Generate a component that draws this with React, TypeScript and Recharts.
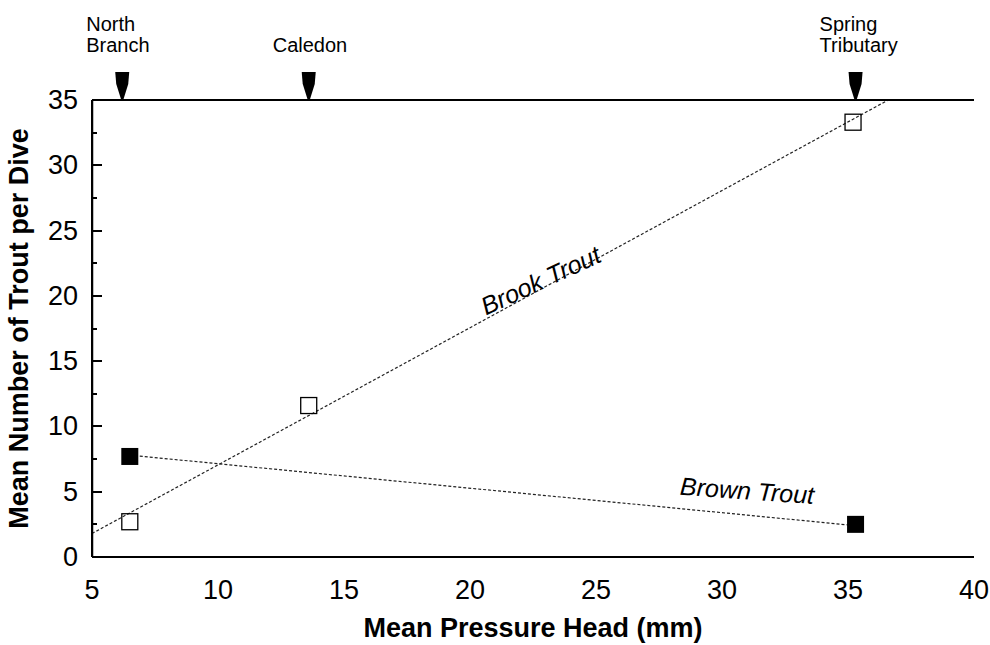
import React from "react";
import {
    ComposedChart,
    Scatter,
    XAxis,
    YAxis,
    ReferenceLine,
    ReferenceDot,
    ReferenceArea,
    Label,
} from "recharts";

// values
const xTicks = [5, 10, 15, 20, 25, 30, 35, 40];
const yTicks = [0, 2.5, 5, 7.5, 10, 12.5, 15, 17.5, 20, 22.5, 25, 27.5, 30, 32.5, 35];

const brookTrout = [
    { x: 6.5, y: 2.7 },
    { x: 13.6, y: 11.6 },
    { x: 35.2, y: 33.3 },
];
const brownTrout = [
    { x: 6.5, y: 7.7 },
    { x: 35.3, y: 2.5 },
];

// fitted lines (end points)
const brookFit = [
    { x: 5, y: 1.8 },
    { x: 36.6, y: 35 },
];
const brownFit = [
    { x: 6.5, y: 7.8 },
    { x: 35.3, y: 2.4 },
];

const siteX = [6.2, 13.6, 35.3];
const siteNames = [["North", "Branch"], ["Caledon"], ["Spring", "Tributary"]];

const FONT = "'Liberation Sans', Arial, Helvetica, sans-serif";
const PLOT_LEFT = 92;

const OpenSquare = (props: any) => {
    const { cx, cy } = props;
    return (
        <rect x={cx - 8} y={cy - 8} width={16} height={16} fill="none" stroke="#000" strokeWidth={1.3} />
    );
};

const FilledSquare = (props: any) => {
    const { cx, cy } = props;
    return <rect x={cx - 8.5} y={cy - 8.5} width={17} height={17} fill="#000" />;
};

// labels every 5, inward tick marks every 2.5
const YTick = (props: any) => {
    const { y, payload } = props;
    const v = payload.value;
    const major = v % 5 === 0;
    const showLine = v > 0 && v < 35;
    return (
        <g>
            {showLine && (
                <rect
                    x={PLOT_LEFT}
                    y={Math.round(y) - 1}
                    width={major ? 10 : 5}
                    height={2}
                    fill="#000"
                    stroke="none"
                />
            )}
            {major && (
                <text
                    x={PLOT_LEFT - 14}
                    y={y}
                    dy={9}
                    textAnchor="end"
                    fontSize={27}
                    fontFamily={FONT}
                    fill="#000"
                    stroke="none"
                >
                    {v}
                </text>
            )}
        </g>
    );
};

const SiteMarker = (lines: string[]) => (props: any) => {
    const { cx, cy } = props;
    const n = lines.length;
    return (
        <g>
            <polygon
                points={`${cx - 7},${cy - 28} ${cx + 7},${cy - 28} ${cx + 6},${cy - 16} ${cx + 1},${cy} ${cx - 1},${cy} ${cx - 6},${cy - 16}`}
                fill="#000"
            />
            {lines.map((t, i) => (
                <text
                    key={t}
                    x={cx - 36}
                    y={cy - 48 - (n - 1 - i) * 21}
                    fontSize={20}
                    fontFamily={FONT}
                    fill="#000"
                >
                    {t}
                </text>
            ))}
        </g>
    );
};

const SeriesLabel = (text: string, angle: number) => (props: any) => {
    const { cx, cy } = props;
    return (
        <text
            x={cx}
            y={cy}
            transform={`rotate(${angle} ${cx} ${cy})`}
            textAnchor="middle"
            dominantBaseline="central"
            fontSize={25}
            fontStyle="italic"
            fontFamily={FONT}
            fill="#000"
        >
            {text}
        </text>
    );
};

const TroutChart: React.FC = () => {
    return (
        <div style={{ position: "absolute", left: 0, top: 0, background: "#fff" }}>
            <ComposedChart
                width={990}
                height={645}
                margin={{ top: 40, right: 16, bottom: 0, left: 0 }}
            >
                <XAxis
                    xAxisId={0}
                    type="number"
                    dataKey="x"
                    domain={[5, 40]}
                    ticks={xTicks}
                    height={88}
                    tickSize={0}
                    tickLine={false}
                    tickMargin={23}
                    axisLine={{ stroke: "#000", strokeWidth: 2 }}
                    tick={{ fontSize: 27, fontFamily: FONT, fill: "#000" }}
                >
                    <Label
                        value="Mean Pressure Head (mm)"
                        position="insideBottom"
                        offset={8}
                        style={{ fontSize: 27, fontWeight: "bold", fontFamily: FONT, fill: "#000" }}
                    />
                </XAxis>
                <XAxis
                    xAxisId="top"
                    orientation="top"
                    type="number"
                    domain={[5, 40]}
                    allowDataOverflow
                    height={60}
                    tick={false}
                    tickLine={false}
                    axisLine={{ stroke: "#000", strokeWidth: 2 }}
                />
                <YAxis
                    yAxisId={0}
                    type="number"
                    domain={[0, 35]}
                    ticks={yTicks}
                    interval={0}
                    width={92}
                    tickSize={0}
                    tickLine={false}
                    tickMargin={14}
                    axisLine={{ stroke: "#000", strokeWidth: 2 }}
                    tick={<YTick />}
                >
                    <Label
                        value="Mean Number of Trout per Dive"
                        angle={-90}
                        position="insideLeft"
                        offset={18}
                        style={{
                            fontSize: 27,
                            fontWeight: "bold",
                            fontFamily: FONT,
                            fill: "#000",
                            textAnchor: "middle",
                        }}
                    />
                </YAxis>
                <YAxis
                    yAxisId="right"
                    orientation="right"
                    type="number"
                    domain={[0, 35]}
                    allowDataOverflow
                    width={0}
                    tick={false}
                    tickLine={false}
                    axisLine={{ stroke: "#000", strokeWidth: 2 }}
                />

                {/* left frame edge */}
                <ReferenceArea x1={5} x2={5.05} fill="#000" fillOpacity={1} stroke="none" />
                <ReferenceLine x={5} stroke="#000" strokeWidth={2} />

                <ReferenceLine
                    segment={brookFit}
                    stroke="#222"
                    strokeWidth={1.2}
                    strokeDasharray="3 2"
                />
                <ReferenceLine
                    segment={brownFit}
                    stroke="#222"
                    strokeWidth={1.2}
                    strokeDasharray="3 2"
                />

                <Scatter
                    name="Brook Trout"
                    data={brookTrout}
                    dataKey="y"
                    shape={<OpenSquare />}
                    isAnimationActive={false}
                />
                <Scatter
                    name="Brown Trout"
                    data={brownTrout}
                    dataKey="y"
                    shape={<FilledSquare />}
                    isAnimationActive={false}
                />

                {siteX.map((sx, i) => (
                    <ReferenceDot
                        key={sx}
                        x={sx}
                        y={35}
                        r={0}
                        ifOverflow="visible"
                        shape={SiteMarker(siteNames[i])}
                    />
                ))}

                <ReferenceDot x={22.8} y={21.2} r={0} shape={SeriesLabel("Brook Trout", -25)} />
                <ReferenceDot x={31.0} y={5.1} r={0} shape={SeriesLabel("Brown Trout", 4)} />
            </ComposedChart>
        </div>
    );
};

export default TroutChart;
